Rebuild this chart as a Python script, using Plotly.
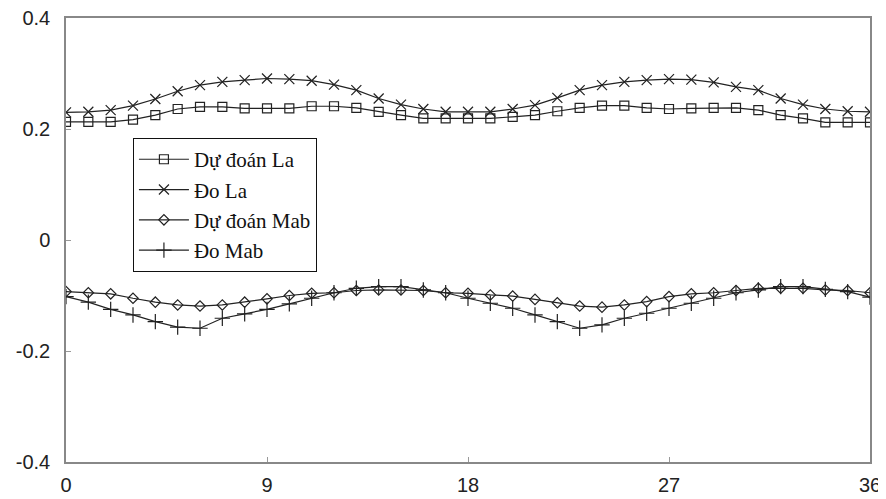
import plotly.graph_objects as go

x_vals = list(range(37))

du_doan_la = [0.213, 0.213, 0.213, 0.217, 0.225, 0.236, 0.240, 0.240, 0.237, 0.237, 0.237, 0.241, 0.241,
              0.238, 0.231, 0.225, 0.219, 0.219, 0.219, 0.219, 0.222, 0.225, 0.232, 0.238, 0.242, 0.242,
              0.238, 0.236, 0.237, 0.238, 0.238, 0.234, 0.225, 0.219, 0.212, 0.212, 0.212]

do_la = [0.230, 0.231, 0.234, 0.242, 0.254, 0.268, 0.279, 0.285, 0.288, 0.291, 0.290, 0.287, 0.280,
         0.270, 0.255, 0.244, 0.236, 0.231, 0.231, 0.231, 0.236, 0.243, 0.256, 0.270, 0.279, 0.285,
         0.288, 0.290, 0.289, 0.284, 0.276, 0.270, 0.255, 0.244, 0.236, 0.232, 0.231]

du_doan_mab = [-0.093, -0.095, -0.097, -0.105, -0.112, -0.117, -0.119, -0.117, -0.112, -0.106, -0.100,
               -0.096, -0.095, -0.091, -0.090, -0.090, -0.091, -0.095, -0.096, -0.099, -0.101, -0.107,
               -0.113, -0.119, -0.121, -0.117, -0.111, -0.102, -0.097, -0.095, -0.091, -0.087, -0.087,
               -0.087, -0.090, -0.091, -0.095]

do_mab = [-0.102, -0.112, -0.125, -0.135, -0.147, -0.157, -0.159, -0.141, -0.133, -0.125, -0.115,
          -0.105, -0.095, -0.087, -0.084, -0.084, -0.090, -0.095, -0.105, -0.114, -0.123, -0.135,
          -0.147, -0.159, -0.153, -0.141, -0.132, -0.123, -0.114, -0.105, -0.095, -0.090, -0.084,
          -0.084, -0.089, -0.093, -0.103]

names = ["Dự đoán La", "Đo La", "Dự đoán Mab", "Đo Mab"]
x_ticks = [0, 9, 18, 27, 36]
y_ticks = [-0.4, -0.2, 0, 0.2, 0.4]
y_tick_text = ["-0.4", "-0.2", "0", "0.2", "0.4"]

fig = go.Figure()
series = [du_doan_la, do_la, du_doan_mab, do_mab]
symbols = ["square-open", "x-thin-open", "diamond-open", "cross-thin-open"]
sizes = [9, 10, 8, 11]
for i, (name, ys, sym, sz) in enumerate(zip(names, series, symbols, sizes)):
    fig.add_trace(go.Scatter(
        x=x_vals, y=ys, name=name, mode="lines+markers",
        line=dict(color="#222", width=1.2),
        marker=dict(symbol=sym, size=sz, color="#222", line=dict(color="#222", width=1.2)),
    ))

axis_common = dict(showline=True, linecolor="#888", linewidth=1.5, mirror=True,
                   showgrid=False, zeroline=False, ticks="inside", ticklen=5,
                   tickcolor="#999", automargin=False, ticklabeloverflow="allow",
                   tickfont=dict(family="Liberation Sans, Arial", size=20, color="#222"))

fig.update_xaxes(range=[0, 36], tickvals=x_ticks, ticklabelstandoff=4, **axis_common)
fig.update_yaxes(range=[-0.4, 0.4], tickvals=y_ticks, ticktext=y_tick_text,
                 ticklabelstandoff=10, **axis_common)

# the page body adds an 8px offset; margins place the plot where the reference has it
fig.update_layout(
    width=886, height=499,
    margin=dict(l=58, r=24, t=10, b=45, pad=0),
    plot_bgcolor="white", paper_bgcolor="white",
    legend=dict(x=0.083, y=0.73, xanchor="left", yanchor="top",
                bordercolor="#111", borderwidth=1.2, bgcolor="white",
                font=dict(family="Liberation Serif, Times New Roman", size=21, color="#111"),
                tracegroupgap=0, itemwidth=50),
    showlegend=True,
)

fig.write_html("out.html")
